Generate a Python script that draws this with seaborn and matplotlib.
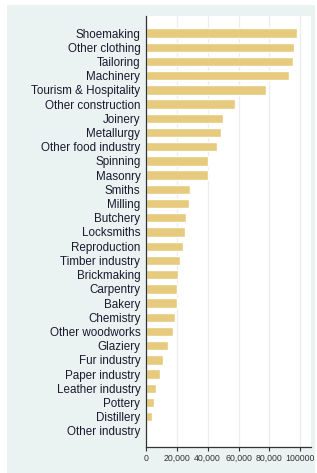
import pandas as pd
import matplotlib.pyplot as plt
import seaborn as sns

# Données
industries = [
    "Shoemaking", "Other clothing", "Tailoring", "Machinery", "Tourism & Hospitality",
    "Other construction", "Joinery", "Metallurgy", "Other food industry", "Spinning",
    "Masonry", "Smiths", "Milling", "Butchery", "Locksmiths", "Reproduction",
    "Timber industry", "Brickmaking", "Carpentry", "Bakery", "Chemistry",
    "Other woodworks", "Glaziery", "Fur industry", "Paper industry",
    "Leather industry", "Pottery", "Distillery", "Other industry",
]
workers = [
    97900, 96100, 95500, 92500, 78000,
    57500, 49900, 48800, 46200, 40000,
    39900, 28700, 28100, 26100, 25500, 23800,
    22300, 20700, 19900, 20100, 18800,
    17700, 14500, 11200, 8900,
    6300, 5200, 3900, 700,
]
x_ticks = [0, 20000, 40000, 60000, 80000, 100000]
x_tick_labels = ["0", "20,000", "40,000", "60,000", "80,000", "100000"]

df = pd.DataFrame({"industry": industries, "workers": workers})

sns.set_style("white")
plt.rcParams["font.family"] = ["Liberation Sans", "DejaVu Sans"]

W, H = 317, 473
fig = plt.figure(figsize=(W / 100, H / 100), dpi=100)
fig.patch.set_facecolor("white")
# panneau de fond gris-bleu clair
fig.patches.append(plt.Rectangle((7 / W, 0), (315 - 7) / W, (H - 5) / H,
                                 transform=fig.transFigure,
                                 facecolor="#eaf3f2", edgecolor="none", zorder=-1))

ax = fig.add_axes([146 / W, (H - 447) / H, (311 - 146) / W, (447 - 16) / H])
sns.barplot(data=df, x="workers", y="industry", color="#e6ca7d", saturation=1,
            width=0.66, ax=ax)

ax.set_facecolor("white")
ax.set_xlim(0, 107000)
ax.set_ylim(len(industries) - 1 + 1.13, -1.2)
ax.set_xticks(x_ticks)
ax.set_xticklabels(x_tick_labels)
ax.xaxis.grid(True, color="#eaeeee", linewidth=0.9)
ax.set_axisbelow(True)
ax.set_xlabel("")
ax.set_ylabel("")

for side in ["top", "right"]:
    ax.spines[side].set_visible(False)
for side in ["left", "bottom"]:
    ax.spines[side].set_color("#333333")
    ax.spines[side].set_linewidth(0.9)

ax.tick_params(axis="y", length=0, pad=4, labelsize=8.4, colors="#1a1a2e")
ax.tick_params(axis="x", length=3, width=0.8, pad=2, labelsize=6.3, colors="#333333",
               bottom=True)

plt.savefig("out.png", dpi=100, facecolor=fig.get_facecolor())
plt.close()
